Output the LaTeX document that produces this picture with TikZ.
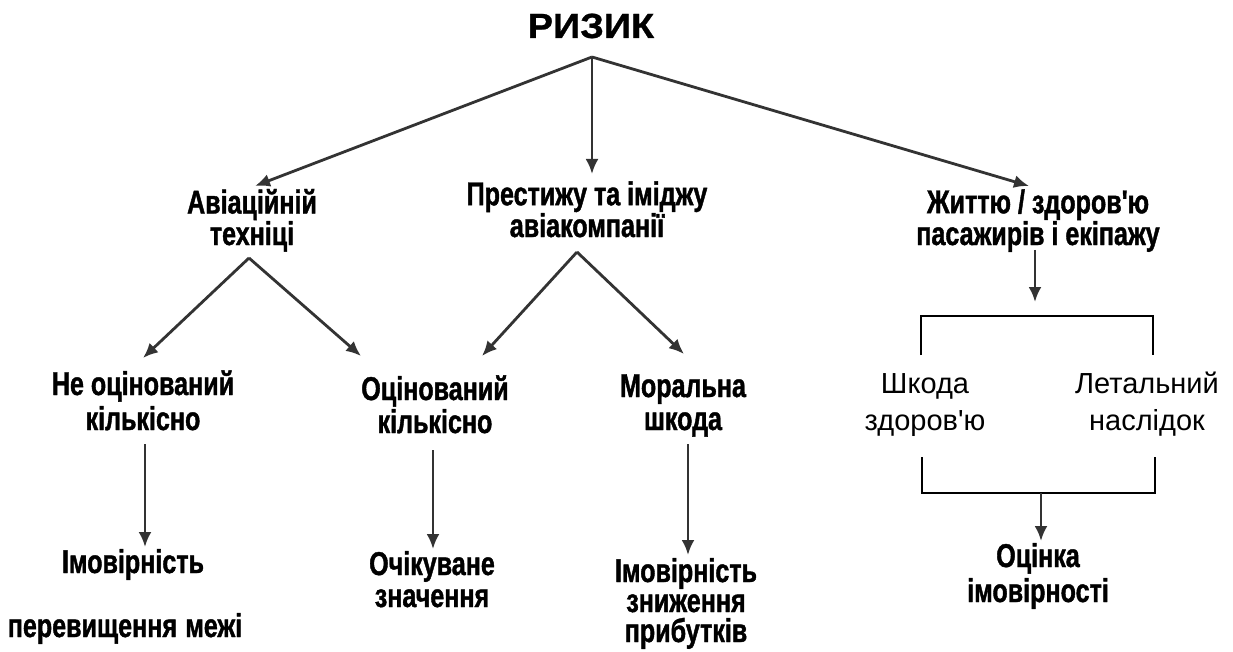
\documentclass[tikz,border=0pt]{standalone}
\usepackage{fontspec}
\usetikzlibrary{arrows.meta}
\newfontfamily\bcond[FakeStretch=0.76,FakeBold=1.2]{Liberation Sans Bold}
\newfontfamily\rcond[FakeStretch=1.0]{Liberation Sans}
\newfontfamily\titlef[FakeStretch=1.08,FakeBold=0.8]{Liberation Sans Bold}
\tikzset{
  lbl/.style={inner sep=0pt, align=center, anchor=base, font=\bcond\fontsize{33}{#1}\selectfont},
  lbl/.default=31,
  reg/.style={inner sep=0pt, align=center, anchor=base, font=\rcond\fontsize{29}{37}\selectfont},
  conn/.style={draw=black!80, line width=2.8pt, -{Latex[length=15pt,width=13pt]}},
  brk/.style={draw=black, line width=2.4pt}
}
\begin{document}
\begin{tikzpicture}[x=1pt,y=-1pt]
\useasboundingbox (0,0) rectangle (1233,652);
\fill[white] (0,0) rectangle (1233,652);
% texts
\node[inner sep=0pt, anchor=base, font=\titlef\fontsize{35}{37}\selectfont] (root) at (591,38) {РИЗИК};
\node[lbl=28] (avia) at (252,245) {Авіаційній\\техніці};
\node[lbl=30] (prest) at (587,237) {Престижу та іміджу\\авіакомпанії};
\node[lbl=30] (zhyt) at (1038,245) {Життю / здоров'ю\\пасажирів і екіпажу};
\node[lbl=35] (neoc) at (143,430) {Не оцінований\\кількісно};
\node[lbl=33] (ocin) at (435,433) {Оцінований\\кількісно};
\node[lbl=33] (moral) at (683,430) {Моральна\\шкода};
\node[reg] (shkoda) at (925,430) {Шкода\\здоров'ю};
\node[reg] (letal) at (1147,430) {Летальний\\наслідок};
\node[lbl] (imov1) at (133,573) {Імовірність};
\node[lbl] (perev) at (125,637) {перевищення\hspace{0.25em}межі};
\node[lbl=32] (ochik) at (432,607) {Очікуване\\значення};
\node[lbl=30] (imov2) at (686,642) {Імовірність\\зниження\\прибутків};
\node[lbl=35] (ocinka) at (1038,602) {Оцінка\\імовірності};
% connector points
\coordinate (rootapex) at (592,57);
\coordinate (aviatip) at (255,186);
\coordinate (presttip) at (592,174);
\coordinate (zhyttip) at (1029,186);
\coordinate (aviaapex) at (249,258);
\coordinate (neoctip) at (143,358);
\coordinate (ocintip1) at (361,356);
\coordinate (prestapex) at (577,252);
\coordinate (ocintip2) at (482,356);
\coordinate (moraltip) at (684,354);
\coordinate (zhytbot) at (1035,250);
\coordinate (zhyttip2) at (1035,302);
\coordinate (neocbot) at (145,444);
\coordinate (imov1tip) at (145,547);
\coordinate (ocinbot) at (433,450);
\coordinate (ochiktip) at (433,549);
\coordinate (moralbot) at (688,444);
\coordinate (imov2tip) at (688,555);
\coordinate (b1l) at (921,355);
\coordinate (b1lt) at (921,316);
\coordinate (b1rt) at (1153,316);
\coordinate (b1r) at (1153,355);
\coordinate (b2l) at (922,457);
\coordinate (b2lb) at (922,493);
\coordinate (b2rb) at (1155,493);
\coordinate (b2r) at (1155,457);
\coordinate (b2mid) at (1041,493);
\coordinate (ocinkatip) at (1041,541);
% connectors
\draw[conn] (rootapex) -- (aviatip);
\draw[conn] (rootapex) -- (presttip);
\draw[conn] (rootapex) -- (zhyttip);
\draw[conn] (aviaapex) -- (neoctip);
\draw[conn] (aviaapex) -- (ocintip1);
\draw[conn] (prestapex) -- (ocintip2);
\draw[conn] (prestapex) -- (moraltip);
\draw[conn] (zhytbot) -- (zhyttip2);
\draw[conn] (neocbot) -- (imov1tip);
\draw[conn] (ocinbot) -- (ochiktip);
\draw[conn] (moralbot) -- (imov2tip);
\draw[brk] (b1l) -- (b1lt) -- (b1rt) -- (b1r);
\draw[brk] (b2l) -- (b2lb) -- (b2rb) -- (b2r);
\draw[conn] (b2mid) -- (ocinkatip);
\end{tikzpicture}
\end{document}
